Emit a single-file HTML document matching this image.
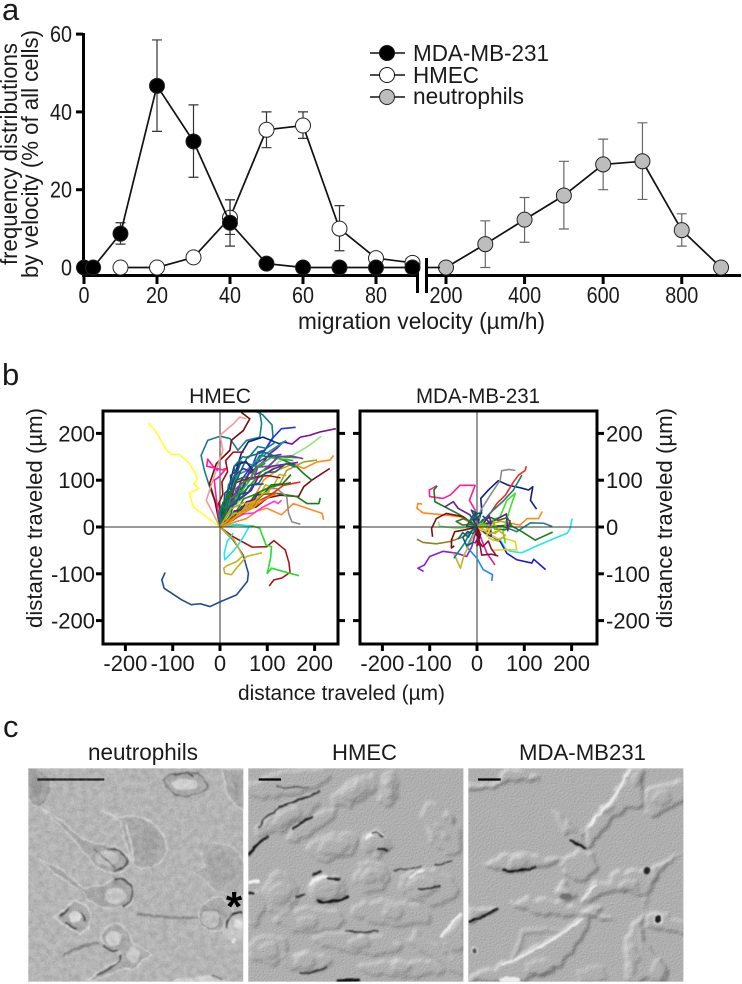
<!DOCTYPE html>
<html lang="en">
<head>
<meta charset="utf-8">
<title>Cell migration velocity figure</title>
<style>
html,body{margin:0;padding:0;background:#fff;}
svg{display:block;}
text{font-family:"Liberation Sans",sans-serif;fill:#1a1a1a;}
</style>
</head>
<body>
<svg id="fig" xmlns="http://www.w3.org/2000/svg" width="742" height="984" viewBox="0 0 742 984">
<defs>
<clipPath id="clipHmec"><rect x="103" y="411" width="235" height="233"/></clipPath>
<clipPath id="clipMda"><rect x="360" y="411" width="237" height="233"/></clipPath>
<clipPath id="clipPhoto"><rect x="10" y="10" width="645" height="640"/></clipPath>
<filter id="soft" filterUnits="userSpaceOnUse" x="0" y="0" width="670" height="660">
  <feTurbulence type="fractalNoise" baseFrequency="0.04" numOctaves="2" seed="3" result="d"/>
  <feDisplacementMap in="SourceGraphic" in2="d" scale="12" xChannelSelector="R" yChannelSelector="G" result="w"/>
  <feGaussianBlur in="w" stdDeviation="2.4"/>
</filter>
<filter id="trackBlur" x="-5%" y="-5%" width="110%" height="110%"><feGaussianBlur stdDeviation="0.35"/></filter>
<filter id="dic" filterUnits="userSpaceOnUse" x="0" y="0" width="670" height="660" color-interpolation-filters="sRGB">
  <feTurbulence type="fractalNoise" baseFrequency="0.03" numOctaves="3" seed="9" result="d"/>
  <feDisplacementMap in="SourceGraphic" in2="d" scale="30" xChannelSelector="R" yChannelSelector="G" result="w"/>
  <feGaussianBlur in="w" stdDeviation="5" result="h"/>
  <feTurbulence type="fractalNoise" baseFrequency="0.2" numOctaves="2" seed="7" result="n"/>
  <feColorMatrix in="n" type="matrix" values="0 0 0 0 0  0 0 0 0 0  0 0 0 0 0  .1 0 0 0 0" result="na"/>
  <feComposite in="h" in2="na" operator="arithmetic" k1="0" k2="1" k3="1" k4="0" result="hh"/>
  <feDiffuseLighting in="hh" surfaceScale="3.6" diffuseConstant="0.97" lighting-color="#ffffff"><feDistantLight azimuth="225" elevation="45"/></feDiffuseLighting>
</filter>
<filter id="noise" x="0" y="0" width="100%" height="100%" color-interpolation-filters="sRGB"><feTurbulence type="fractalNoise" baseFrequency="0.7" numOctaves="2" seed="4"/><feColorMatrix type="matrix" values="1.4 0 0 0 0  1.4 0 0 0 0  1.4 0 0 0 0  0 0 0 0 1"/></filter>
<filter id="mottle" x="0" y="0" width="100%" height="100%" color-interpolation-filters="sRGB"><feTurbulence type="fractalNoise" baseFrequency="0.16" numOctaves="2" seed="11"/><feColorMatrix type="matrix" values="1.4 0 0 0 0  1.4 0 0 0 0  1.4 0 0 0 0  0 0 0 0 1"/></filter>
</defs>

<text x="2" y="20" font-size="31">a</text>
<text x="2" y="385" font-size="31">b</text>
<text x="3" y="737" font-size="31">c</text>

<g id="panelA">
<text transform="translate(17,265) rotate(-90)" font-size="23" textLength="222" lengthAdjust="spacingAndGlyphs">frequency distributions</text>
<text transform="translate(38,278) rotate(-90)" font-size="23" textLength="248" lengthAdjust="spacingAndGlyphs">by velocity (% of all cells)</text>
<text x="298" y="329" font-size="23" textLength="247" lengthAdjust="spacingAndGlyphs">migration velocity (µm/h)</text>
<g>
<g><line x1="370" y1="53" x2="405" y2="53" stroke="#111" stroke-width="1.6"/><circle cx="387" cy="53" r="7.5" fill="#000" stroke="#111" stroke-width="1"/><text x="413" y="61" font-size="23" textLength="136" lengthAdjust="spacingAndGlyphs">MDA-MB-231</text></g>
<g><line x1="370" y1="75" x2="405" y2="75" stroke="#111" stroke-width="1.6"/><circle cx="387" cy="75" r="7.5" fill="#fff" stroke="#111" stroke-width="1"/><text x="413" y="83" font-size="23" textLength="66" lengthAdjust="spacingAndGlyphs">HMEC</text></g>
<g><line x1="370" y1="97" x2="405" y2="97" stroke="#111" stroke-width="1.6"/><circle cx="387" cy="97" r="7.5" fill="#bdbdbd" stroke="#222" stroke-width="1"/><text x="413" y="104" font-size="23" textLength="111" lengthAdjust="spacingAndGlyphs">neutrophils</text></g>
</g>
</g>

<g id="panelB">
<text x="220" y="403" font-size="21" text-anchor="middle">HMEC</text>
<text x="478" y="403" font-size="21" text-anchor="middle" textLength="124" lengthAdjust="spacingAndGlyphs">MDA-MB-231</text>
<text transform="translate(42,628) rotate(-90)" font-size="22" textLength="220" lengthAdjust="spacingAndGlyphs">distance traveled (µm)</text>
<text transform="translate(672,628) rotate(-90)" font-size="22" textLength="220" lengthAdjust="spacingAndGlyphs">distance traveled (µm)</text>
<text x="238" y="700" font-size="21" textLength="207" lengthAdjust="spacingAndGlyphs">distance traveled (µm)</text>
</g>

<g id="panelC">
<text x="88" y="760" font-size="23" textLength="110" lengthAdjust="spacingAndGlyphs">neutrophils</text>
<text x="332" y="760" font-size="22" textLength="65" lengthAdjust="spacingAndGlyphs">HMEC</text>
<text x="519" y="760" font-size="22" textLength="127" lengthAdjust="spacingAndGlyphs">MDA-MB231</text>

<!-- neutrophils micrograph -->
<g transform="translate(25 765) scale(.33333)" clip-path="url(#clipPhoto)">
<rect x="10" y="10" width="645" height="640" fill="#b6b6b6"/>
<g filter="url(#soft)">
<g><path d="M8,12 Q55,12 72,55 Q76,105 35,124 Q15,120 8,100Z" fill="#a0a0a0" stroke="#d6d6d6" stroke-width="5"/><path d="M8,12 Q55,12 72,55 Q76,105 35,124" fill="none" stroke="#6a6a6a" stroke-width="3"/><ellipse cx="35" cy="65" rx="18" ry="28" fill="#8f8f8f"/></g>
<g><path d="M415,40 Q460,15 520,25 Q552,50 546,72 Q510,98 450,92 Q425,75 415,40Z" fill="#a6a6a6" stroke="#666" stroke-width="4"/><ellipse cx="480" cy="58" rx="38" ry="17" fill="#d8d8d8"/><path d="M445,30 Q480,20 505,32" fill="none" stroke="#444" stroke-width="6"/></g>
<g><path d="M590,12 L660,12 L660,140 Q612,115 602,70Z" fill="#a8a8a8" stroke="#d6d6d6" stroke-width="5"/><path d="M625,50 Q645,70 635,105" fill="none" stroke="#949494" stroke-width="12"/></g>
<g><path d="M230,135 L285,158 Q300,152 340,155 Q390,170 415,210 Q435,250 418,275 Q395,312 345,314 L322,292 L300,232 L285,168Z" fill="#a8a8a8" stroke="#d4d4d4" stroke-width="5"/><path d="M305,175 Q320,230 325,290" fill="none" stroke="#e0e0e0" stroke-width="5"/><ellipse cx="365" cy="235" rx="40" ry="50" fill="#a0a0a0"/></g>
<g><path d="M45,128 L115,170 L170,222 L255,242 Q305,252 314,290 Q308,322 268,326 Q212,312 190,280 L150,228 L100,176Z" fill="#a4a4a4" stroke="#d6d6d6" stroke-width="4"/><path d="M245,255 Q298,245 305,290 Q300,315 270,318" fill="none" stroke="#333" stroke-width="6"/><ellipse cx="245" cy="280" rx="35" ry="22" fill="#c6c6c6"/><path d="M205,250 Q235,275 275,310" stroke="#666" stroke-width="5" fill="none"/></g>
<g><path d="M38,280 L110,315 L175,370 L235,360 Q275,332 315,345 Q332,385 320,420 Q285,432 240,428 Q195,418 175,385 L150,365 L90,325Z" fill="#a2a2a2" stroke="#d6d6d6" stroke-width="4"/><path d="M265,345 Q315,335 322,380 Q322,410 295,425" fill="none" stroke="#2c2c2c" stroke-width="6"/><ellipse cx="272" cy="392" rx="32" ry="24" fill="#cccccc"/></g>
<g><path d="M90,455 L150,405 Q195,420 198,450 L188,492 L165,506 L120,482Z" fill="#a8a8a8" stroke="#e0e0e0" stroke-width="5"/><path d="M105,455 L130,430 M120,472 L155,492 M170,440 L178,470" stroke="#222" stroke-width="7" fill="none"/><circle cx="150" cy="455" r="17" fill="#e4e4e4"/></g>
<g><path d="M225,520 Q235,480 275,475 Q315,490 325,540 Q355,545 380,570 L350,585 Q345,620 300,610 Q250,630 205,645 L180,650 Q230,610 290,580 Q290,558 270,558 Q240,550 225,520Z" fill="#a8a8a8" stroke="#dcdcdc" stroke-width="4"/><path d="M235,540 Q255,560 280,558 M290,572 Q280,605 215,630" fill="none" stroke="#262626" stroke-width="6"/><ellipse cx="265" cy="520" rx="24" ry="22" fill="#d2d2d2"/><ellipse cx="325" cy="570" rx="20" ry="25" fill="#d0d0d0"/><path d="M110,575 Q160,540 225,535" fill="none" stroke="#808080" stroke-width="8"/></g>
<g><path d="M505,325 L540,305 Q515,260 545,235 Q600,225 640,260 L660,300 L660,395 Q590,385 560,370 L540,340Z" fill="#adadad" stroke="#c8c8c8" stroke-width="4"/><ellipse cx="590" cy="310" rx="42" ry="48" fill="#a4a4a4"/></g>
<g><path d="M335,448 Q430,458 520,458" fill="none" stroke="#808080" stroke-width="7"/><path d="M520,445 Q540,395 590,395 L625,440 Q600,480 590,495 Q545,505 530,480Z" fill="#a6a6a6" stroke="#dcdcdc" stroke-width="4"/><ellipse cx="558" cy="462" rx="30" ry="30" fill="#c2c2c2" stroke="#606060" stroke-width="3"/></g>
<g><circle cx="632" cy="490" r="40" fill="#cbcbcb"/><path d="M602,490 Q608,442 652,440" fill="none" stroke="#0c0c0c" stroke-width="6"/><circle cx="625" cy="528" r="8" fill="#ececec"/><circle cx="640" cy="480" r="14" fill="#e8e8e8"/></g>
<g><path d="M440,650 Q470,630 505,640 Q550,625 600,645 L600,655 L440,655Z" fill="#d8d8d8"/><path d="M560,632 Q580,635 590,645" stroke="#444" stroke-width="4" fill="none"/></g>
</g>
<rect x="37" y="40" width="201" height="7" fill="#0a0a0a"/>
</g>
<rect x="28" y="768" width="215" height="214" filter="url(#noise)" opacity=".1"/>
<rect x="28" y="768" width="215" height="214" filter="url(#mottle)" opacity=".1"/>
<text x="234" y="921" font-size="42" font-weight="bold" text-anchor="middle" style="fill:#000">*</text>

<!-- HMEC micrograph -->
<g transform="translate(245 765) scale(.33333)" clip-path="url(#clipPhoto)">
<rect x="10" y="10" width="645" height="640" fill="#adadad"/>
<g filter="url(#dic)">
<rect x="-20" y="-20" width="710" height="700" fill="#000" fill-opacity=".05"/>
<g fill="#000" fill-opacity=".3">
<ellipse cx="130" cy="55" rx="130" ry="36" transform="rotate(-10 130 55)"/>
<ellipse cx="330" cy="80" rx="80" ry="32" transform="rotate(-28 330 80)"/>
<ellipse cx="430" cy="70" rx="30" ry="55" transform="rotate(12 430 70)"/>
<ellipse cx="125" cy="155" rx="105" ry="32" transform="rotate(-28 125 155)"/>
<ellipse cx="205" cy="180" rx="85" ry="24" transform="rotate(-32 205 180)"/>
<ellipse cx="265" cy="245" rx="78" ry="40" transform="rotate(-10 265 245)"/>
<ellipse cx="590" cy="195" rx="45" ry="85" transform="rotate(-30 590 195)"/>
<ellipse cx="395" cy="235" rx="40" ry="38"/>
<ellipse cx="105" cy="385" rx="52" ry="62"/>
<ellipse cx="380" cy="335" rx="52" ry="45"/>
<ellipse cx="550" cy="365" rx="90" ry="52" transform="rotate(8 550 365)"/>
<ellipse cx="245" cy="372" rx="55" ry="40"/>
<ellipse cx="195" cy="465" rx="105" ry="36"/>
<ellipse cx="440" cy="445" rx="125" ry="36" transform="rotate(5 440 445)"/>
<ellipse cx="340" cy="535" rx="135" ry="30" transform="rotate(6 340 535)"/>
<ellipse cx="470" cy="610" rx="125" ry="26"/>
<ellipse cx="180" cy="590" rx="72" ry="28"/>
<ellipse cx="70" cy="555" rx="62" ry="42"/>
<ellipse cx="30" cy="430" rx="28" ry="50"/>
<path d="M520,500 L660,610 L660,640 L480,530Z"/>
<path d="M590,520 L660,445 L660,540 L620,560Z"/>
</g>
<g fill="#000" fill-opacity=".38">
<ellipse cx="330" cy="80" rx="42" ry="20" transform="rotate(-28 330 80)"/>
<ellipse cx="430" cy="70" rx="18" ry="36" transform="rotate(12 430 70)"/>
<ellipse cx="125" cy="155" rx="45" ry="18" transform="rotate(-28 125 155)"/>
<ellipse cx="265" cy="245" rx="45" ry="24" transform="rotate(-10 265 245)"/>
<ellipse cx="396" cy="235" rx="28" ry="26"/>
<ellipse cx="108" cy="385" rx="32" ry="30"/>
<ellipse cx="380" cy="335" rx="30" ry="26"/>
<ellipse cx="535" cy="365" rx="45" ry="28"/>
<ellipse cx="245" cy="372" rx="42" ry="30"/>
<ellipse cx="190" cy="470" rx="28" ry="18"/>
<ellipse cx="445" cy="440" rx="28" ry="20"/>
<ellipse cx="345" cy="530" rx="32" ry="20"/>
<ellipse cx="470" cy="605" rx="30" ry="18"/>
<ellipse cx="180" cy="590" rx="30" ry="20"/>
<ellipse cx="75" cy="555" rx="30" ry="22"/>
</g>
<g fill="#000" fill-opacity=".3">
<ellipse cx="580" cy="185" rx="14" ry="8" transform="rotate(35 580 185)"/><ellipse cx="600" cy="210" rx="14" ry="8" transform="rotate(35 600 210)"/><ellipse cx="565" cy="210" rx="14" ry="8" transform="rotate(35 565 210)"/><ellipse cx="610" cy="160" rx="14" ry="8" transform="rotate(35 610 160)"/>
<ellipse cx="330" cy="70" rx="14" ry="6" transform="rotate(-28 330 70)"/><ellipse cx="430" cy="55" rx="10" ry="7"/><ellipse cx="430" cy="85" rx="10" ry="7"/>
<ellipse cx="245" cy="372" rx="14" ry="9"/><ellipse cx="105" cy="390" rx="14" ry="9"/><ellipse cx="380" cy="325" rx="12" ry="8"/>
</g>
</g>
<g filter="url(#soft)" fill="none">
<path d="M10,272 Q30,240 68,214" stroke="#0c0c0c" stroke-width="8"/>
<path d="M40,190 Q75,135 125,120" stroke="#3a3a3a" stroke-width="5"/>
<path d="M100,125 Q170,105 225,78" stroke="#2c2c2c" stroke-width="6"/>
<path d="M145,192 Q170,170 205,155" stroke="#222" stroke-width="7"/>
<path d="M90,65 Q140,72 190,65" stroke="#555" stroke-width="4"/>
<path d="M360,222 Q385,190 412,210" stroke="#f2f2f2" stroke-width="9"/>
<path d="M378,205 Q398,198 412,214" stroke="#1a1a1a" stroke-width="6"/>
<path d="M398,252 L428,258" stroke="#222" stroke-width="8"/>
<path d="M195,360 Q205,340 245,335" stroke="#f0f0f0" stroke-width="10"/>
<path d="M205,330 L230,318 M240,340 L285,345" stroke="#1c1c1c" stroke-width="7"/>
<path d="M215,405 Q260,420 310,395" stroke="#0e0e0e" stroke-width="7"/>
<path d="M495,340 Q510,320 535,318" stroke="#ececec" stroke-width="7"/>
<path d="M520,372 Q550,372 585,362" stroke="#2a2a2a" stroke-width="6"/>
<path d="M445,316 L530,306 M570,300 L620,290" stroke="#333" stroke-width="4"/>
<path d="M10,350 L45,348" stroke="#f4f4f4" stroke-width="9"/>
<path d="M10,385 L30,385" stroke="#141414" stroke-width="7"/>
<path d="M150,395 L178,390" stroke="#2a2a2a" stroke-width="5"/>
<path d="M300,497 Q350,505 400,498" stroke="#3c3c3c" stroke-width="5"/>
<path d="M650,445 Q610,480 590,515" stroke="#efefef" stroke-width="9"/>
<path d="M275,648 L345,645" stroke="#0c0c0c" stroke-width="9"/>
<path d="M165,625 Q210,625 245,605" stroke="#333" stroke-width="5"/>
</g>
<rect x="41" y="40" width="67" height="7" fill="#0a0a0a"/>
</g>

<!-- MDA micrograph -->
<g transform="translate(465 765) scale(.33333)" clip-path="url(#clipPhoto)">
<rect x="10" y="10" width="645" height="640" fill="#b0b0b0"/>
<g filter="url(#dic)">
<rect x="-20" y="-20" width="710" height="700" fill="#000" fill-opacity=".05"/>
<g fill="#000" fill-opacity=".42">
<path d="M10,60 L90,55 L125,12 L150,14 Q200,25 225,50 Q140,30 100,60 L10,82Z"/>
<path d="M365,185 L440,105 L495,12 L535,12 Q530,60 535,125 L490,128 Q430,165 395,225 L365,250Z"/>
<path d="M540,80 Q580,50 660,52 L660,100 Q600,145 560,155 L540,125Z"/>
<path d="M265,140 Q320,170 350,205 L368,250 Q310,225 285,185Z"/>
<path d="M55,300 Q120,270 160,262 Q220,275 300,290 L230,305 Q180,325 140,320 Q90,320 55,300Z"/>
<ellipse cx="345" cy="305" rx="50" ry="45"/>
<path d="M435,330 Q490,315 560,310 L660,260 L580,318 L545,385 Q490,395 450,375 L340,418 L380,365 Q410,350 435,355Z"/>
<path d="M300,350 Q335,375 332,395 Q310,415 280,405 Q265,385 300,350Z"/>
<path d="M135,420 Q190,395 250,400 Q330,430 440,455 L445,465 L330,450 Q230,450 175,435Z"/>
<path d="M12,432 L100,428 Q60,460 12,472Z"/>
<path d="M105,600 Q200,565 270,515 Q330,480 380,420 Q400,420 410,430 L370,470 Q350,530 300,590 Q240,640 110,650 L10,650 L10,630Z"/>
<path d="M130,590 Q160,530 175,490 L315,495 L185,505 Q165,550 140,590Z" fill-opacity=".25"/>
<path d="M550,450 Q600,445 660,470 L660,510 Q600,495 548,480Z"/>
<path d="M480,520 L535,445 L530,650 L480,650Z"/>
<path d="M530,500 L560,560 L610,610 L605,650 L530,650Z"/>
<path d="M340,630 Q370,600 420,605 L420,650 L340,650Z" fill-opacity=".2"/>
<path d="M495,385 L545,430 L580,320 L560,330 L535,405Z" fill-opacity=".22"/>
</g>
<g fill="#000" fill-opacity=".45">
<ellipse cx="318" cy="190" rx="24" ry="14"/>
<ellipse cx="155" cy="295" rx="26" ry="16"/><circle cx="165" cy="285" r="7"/><circle cx="145" cy="285" r="7"/>
<ellipse cx="490" cy="360" rx="32" ry="20"/><circle cx="470" cy="370" r="6"/><circle cx="490" cy="345" r="6"/><circle cx="510" cy="350" r="6"/>
<ellipse cx="302" cy="385" rx="18" ry="14"/>
<ellipse cx="230" cy="610" rx="45" ry="22"/>
<ellipse cx="580" cy="610" rx="18" ry="30"/><ellipse cx="503" cy="585" rx="14" ry="45"/>
<ellipse cx="430" cy="130" rx="20" ry="12" transform="rotate(-45 430 130)"/><ellipse cx="515" cy="40" rx="12" ry="18"/><ellipse cx="590" cy="100" rx="30" ry="18" transform="rotate(-25 590 100)"/>
</g>
</g>
<g filter="url(#soft)">
<path d="M12,470 Q60,455 100,430" fill="none" stroke="#0c0c0c" stroke-width="6"/>
<path d="M315,225 Q340,240 366,250" fill="none" stroke="#0e0e0e" stroke-width="7"/>
<path d="M110,315 Q160,325 215,305" fill="none" stroke="#111" stroke-width="7"/>
<path d="M370,185 L445,100 L495,15" fill="none" stroke="#f0f0f0" stroke-width="6"/>
<path d="M110,598 Q215,565 355,460" fill="none" stroke="#f0f0f0" stroke-width="6"/>
<path d="M350,410 Q375,370 395,362" fill="none" stroke="#ececec" stroke-width="5"/>
<circle cx="545" cy="318" r="10" fill="#222"/>
<circle cx="580" cy="463" r="15" fill="#1c1c1c" stroke="#eee" stroke-width="4"/>
<circle cx="29" cy="556" r="9" fill="#505050" stroke="#e4e4e4" stroke-width="3"/>
<path d="M105,640 Q135,625 165,640 L165,655 L105,655Z" fill="#ececec"/>
<ellipse cx="302" cy="395" rx="18" ry="9" fill="#707070"/>
</g>
<rect x="39" y="40" width="68" height="7" fill="#0a0a0a"/>
</g>
</g>
</svg>

<script>
// ---- Panel a data ----
const velocityTicksLow = [0, 20, 40, 60, 80];
const velocityTicksHigh = [200, 400, 600, 800];
const frequencyTicks = [0, 20, 40, 60];

const mdaVelocity = [0, 2.5, 10, 20, 30, 40, 50, 60, 70, 80, 90];
const mdaFrequency = [0, 0, 8.7, 46.7, 32.4, 11.5, 1, 0, 0, 0, 0];
const mdaErrorHigh = [null, null, 11.5, 58.5, 41.8, 17.4, null, null, null, null, null];
const mdaErrorLow = [null, null, 6, 35, 23.2, 5.5, null, null, null, null, null];

const hmecVelocity = [10, 20, 30, 40, 50, 60, 70, 80, 90];
const hmecFrequency = [0, 0, 2.6, 12.8, 35.4, 36.5, 10, 2.4, 1.2];
const hmecErrorHigh = [null, null, null, 17.4, 40, 40, 15.9, null, null];
const hmecErrorLow = [null, null, null, 8.5, 30.8, 33.2, 4.3, null, null];

const neutroVelocity = [200, 300, 400, 500, 600, 700, 800, 900];
const neutroFrequency = [0, 6, 12.3, 18.5, 26.5, 27.3, 9.6, 0];
const neutroErrorHigh = [null, 12, 18, 27.3, 33, 37.2, 13.8, null];
const neutroErrorLow = [null, 0, 6.5, 9.9, 20, 17.5, 5.5, null];

// ---- Panel b data (µm) ----
const trajectoryTicks = [-200, -100, 0, 100, 200];
const hmecTrackColors = ['#ffff33','#1f4e8c','#a01818','#22e02a','#22e6f0','#c4b420','#1d7d83','#128080','#6e1010','#f09a9a','#ff1a9a','#7a0f96','#8fe87a','#2233ee','#10207e','#ff8a1e','#7a1010','#1e7a1e','#ff8a2a','#8c8c8c','#0f7a24','#a8a020','#ff2020','#ff33dd','#7a0f96','#3a3ab0','#1a9a9a','#6a1aa8','#2aa02a','#c8b020','#8a1a1a','#0f6a6a','#1a8a1a','#1a1a90','#32b432','#0f7a7a','#7a3ab0','#107060','#1e6e1e','#a01010','#3a8a3a','#0f5a78','#2244aa','#136b3a','#5a1a90','#0f7a24','#157a7a','#0f7a24','#e07a10','#d8a010','#e6a000','#c01010','#e6a000'];
const hmecTracks = [
[[0,0],[-33,25],[-56,42],[-65,72],[-45,82],[-56,93],[-49,100],[-50,111],[-65,136],[-86,155],[-103,155],[-113,164],[-135,203],[-151,222]],
[[0,0],[28,-28],[49,-60],[60,-99],[58,-116],[35,-145],[0,-160],[-21,-170],[-42,-164],[-61,-166],[-82,-155],[-118,-131],[-123,-113],[-116,-97]],
[[0,0],[28,-21],[68,-43],[99,-42],[114,-29],[138,-49],[146,-77],[148,-97],[131,-109],[114,-113],[104,-126]],
[[0,0],[35,4],[70,2],[84,-3],[97,-38],[109,-42],[107,-66],[100,-99],[109,-88],[148,-99],[167,-104]],
[[0,0],[35,6],[62,2],[52,-17],[36,-42],[24,-56],[10,-70],[9,-56],[15,-31],[28,-13]],
[[0,0],[30,-28],[48,-62],[35,-74],[14,-83],[8,-88],[10,-99],[24,-102],[35,-88],[56,-63],[89,-55]],
[[0,0],[-4,36],[-22,86],[-33,121],[-40,153],[-26,185],[0,194],[21,189],[38,164],[56,185],[84,192],[88,221],[84,245],[99,252]],
[[8,30],[30,100],[45,140],[75,130],[95,165],[112,192],[110,218],[90,240],[70,250],[30,248]],
[[0,0],[-11,57],[-22,93],[-8,135],[21,164],[24,185],[49,206],[63,231],[45,245]],
[[0,0],[-29,57],[-15,100],[6,164],[0,196],[28,220],[42,235],[56,231]],
[[0,0],[-8,62],[-12,100],[-2,107],[13,125],[5,122],[-28,130],[-26,145],[-15,130],[-4,120]],
[[0,0],[8,24],[21,43],[30,70],[49,86],[60,112],[77,128],[92,140],[106,157],[120,168],[134,182],[152,177],[170,192],[190,196],[211,203],[245,210]],
[[0,0],[18,30],[35,48],[63,79],[78,104],[106,121],[125,140],[148,150],[184,171],[214,194]],
[[0,0],[14,32],[35,72],[45,100],[70,135],[80,160],[95,164],[113,192],[130,210],[160,213]],
[[0,0],[6,36],[20,66],[28,100],[45,157],[60,182],[91,192],[125,178],[141,182]],
[[0,0],[35,29],[55,44],[77,72],[92,100],[120,121],[155,135],[177,125],[205,139],[233,143],[240,153]],
[[0,0],[28,15],[50,36],[77,43],[100,62],[127,68],[166,65],[177,86],[194,100],[232,125]],
[[0,0],[28,15],[46,38],[70,50],[92,70],[120,72],[162,65],[184,50],[209,50],[212,62]],
[[0,0],[30,10],[56,18],[78,34],[99,40],[130,26],[155,50],[184,40],[216,29],[219,15]],
[[0,0],[30,20],[63,43],[78,70],[99,82],[120,82],[141,65],[145,29],[152,11],[170,6]],
[[0,0],[28,60],[44,76],[56,107],[70,130],[84,153],[127,146],[159,132],[177,114],[194,100]],
[[0,0],[35,29],[64,48],[91,72],[127,93],[141,121],[177,139],[205,143]],
[[0,0],[42,30],[60,36],[84,57],[106,68],[134,89],[170,96]],
[[0,0],[50,28],[72,30],[90,42],[115,55],[123,50],[130,57]],
[[0,0],[14,25],[22,54],[40,58],[66,78],[80,105],[115,125],[130,130]],
[[0,0],[25,45],[40,62],[52,90],[66,130],[100,150],[130,155]],
[[0,0],[12,55],[38,112],[55,120],[80,145],[125,175],[140,185]],
[[0,0],[15,50],[30,110],[50,125],[75,112],[110,130],[165,138]],
[[0,0],[30,48],[44,70],[60,85],[88,118],[125,150],[165,148]],
[[0,0],[48,36],[80,62],[96,90],[112,85],[125,112],[140,110]],
[[0,0],[22,55],[34,95],[62,105],[100,110],[128,105]],
[[0,0],[20,62],[44,120],[58,150],[92,160],[120,150]],
[[0,0],[36,36],[50,60],[70,68],[104,85],[150,95]],
[[0,0],[10,50],[22,98],[30,130],[55,140],[70,120]],
[[0,0],[28,52],[60,96],[80,130],[108,148],[155,142]],
[[0,0],[5,20],[3,45],[14,62],[18,90],[32,112],[30,130],[48,150],[60,148],[80,172],[98,168],[118,182]],
[[0,0],[8,14],[14,40],[30,58],[34,82],[52,98],[72,104],[80,128],[104,130],[122,150],[150,152],[176,146]],
[[0,0],[12,10],[24,30],[28,52],[48,66],[60,88],[82,94],[96,116],[118,118],[140,136],[160,128]],
[[0,0],[14,12],[30,22],[46,44],[58,46],[74,68],[92,70],[108,90],[132,92],[150,112]],
[[0,0],[3,24],[-3,50],[6,70],[4,96],[16,118],[12,142],[28,160],[50,160]],
[[0,0],[6,18],[16,34],[22,60],[38,72],[46,94],[62,100],[74,124],[96,136]],
[[0,0],[2,22],[8,44],[10,72],[24,86],[22,110],[38,122],[42,142]],
[[0,0],[4,14],[14,26],[20,44],[34,50],[42,70],[60,74],[70,90],[92,92]],
[[0,0],[-2,16],[2,36],[12,50],[14,70],[28,82],[34,100],[54,108]],
[[0,0],[8,10],[22,16],[30,34],[44,36],[56,54],[72,58],[82,74]],
[[0,0],[3,12],[9,30],[6,52],[18,64],[24,80]],
[[0,0],[2,14],[-2,30],[4,46],[12,40],[16,58]],
[[0,0],[6,8],[12,20],[10,36],[20,42]],
[[0,0],[30,20],[68,40],[96,60],[120,72]],
[[0,0],[22,38],[50,52],[70,40],[85,60]],
[[0,0],[14,12],[30,30],[42,28],[58,50],[74,56],[92,72],[106,76]],
[[0,0],[12,6],[26,14],[40,26],[50,30]],
[[0,0],[18,8],[34,22],[50,32],[66,42],[76,58]]
];
const mdaTrackColors = ['#22e6f0','#10207e','#ff2020','#8c8c8c','#1d7d83','#ff1a9a','#1e7a1e','#ff8a1e','#8a1010','#8fe87a','#6a1a90','#8a8420','#7a1010','#8a1ae0','#2288ee','#c4b420','#1a1ac0','#1a8088','#1e7a1e','#ff8a1e','#e8d020','#44e024','#7a0f96','#e01a9a','#8a1040','#128090','#e6a000','#0f5a5a','#8a1010','#3030a0','#1e7a1e','#0f5a78','#8a1040','#2a7a2a','#c8b020','#14506e','#a01050','#0f6a6a','#6a1a90','#e6a000','#0f7a50','#44e024','#e8d020','#6e1010','#124a7a'];
const mdaTracks = [
[[0,0],[49,-28],[60,-46],[70,-52],[95,-55],[123,-42],[155,-28],[191,-13],[197,-3],[201,18]],
[[0,0],[10,36],[8,61],[24,79],[45,99],[67,89],[91,84],[109,79],[118,86],[113,57],[126,38]],
[[0,0],[28,29],[42,50],[60,68],[77,96],[88,111],[102,121],[104,130]],
[[0,0],[8,36],[28,68],[49,100],[52,120],[67,123],[81,121]],
[[0,0],[30,32],[55,55],[77,79],[95,111]],
[[0,0],[-4,36],[-16,57],[-4,89],[-36,89],[-57,68],[-72,61],[-100,65],[-101,79],[-85,88]],
[[0,0],[-36,26],[-68,43],[-89,54],[-91,79],[-84,88]],
[[0,0],[-36,22],[-72,26],[-114,30],[-127,40],[-125,50],[-116,49]],
[[0,0],[-29,22],[-65,29],[-86,18],[-96,-3],[-94,-21]],
[[0,0],[-43,-3],[-79,2],[-82,11]],
[[0,0],[-15,26],[-40,40],[-50,54],[-68,43]],
[[0,0],[-29,-21],[-57,-31],[-86,-36],[-114,-33],[-127,-26]],
[[0,0],[-25,-6],[-47,-10],[-54,-28],[-54,-45],[-48,-40]],
[[0,0],[-11,-42],[-22,-63],[-43,-56],[-72,-52],[-100,-63],[-111,-81],[-125,-88],[-113,-95]],
[[0,0],[-22,-42],[0,-67],[13,-91],[33,-102],[31,-115]],
[[0,0],[-15,-35],[-28,-62],[-35,-88],[-43,-70],[-50,-55]],
[[0,0],[49,-31],[63,-56],[84,-70],[116,-77],[120,-69],[145,-91]],
[[0,0],[56,1],[84,-10],[113,9],[141,8],[159,1]],
[[0,0],[70,4],[95,-10],[123,-28],[138,-21],[160,-11]],
[[0,0],[50,12],[91,4],[106,18],[130,18],[138,33]],
[[0,0],[42,-25],[56,-24],[81,-31],[84,-49],[60,-48],[35,-50]],
[[0,0],[49,22],[63,57],[81,72],[70,40],[55,-10],[60,-35]],
[[0,0],[30,10],[62,28],[65,-8],[70,15]],
[[0,0],[10,-28],[21,-56],[38,-81]],
[[0,0],[4,-25],[10,-60],[30,-58],[45,-62]],
[[0,0],[-15,-12],[-26,-34],[-49,-67]],
[[0,0],[20,-8],[38,-14],[50,-4]],
[[0,0],[-22,2],[-6,28],[10,30],[-4,14]],
[[0,0],[4,-18],[0,-40],[6,-34]],
[[0,0],[18,-14],[30,-20],[28,8],[12,24]],
[[0,0],[12,16],[30,20],[44,14],[64,20],[72,6],[60,-6],[36,-4]],
[[0,0],[-8,-14],[-20,-10],[-30,-22],[-22,-40],[-6,-32]],
[[0,0],[6,-12],[2,-28],[12,-42],[24,-30],[30,-46],[40,-60]],
[[0,0],[-14,6],[-30,4],[-44,12],[-28,18],[-12,12]],
[[0,0],[16,-6],[28,-14],[46,-8],[60,-18],[44,-30],[24,-24]],
[[0,0],[-6,12],[-2,30],[-12,36],[-4,20]],
[[0,0],[-3,-10],[3,-22],[-4,-34],[2,-26],[6,-40]],
[[0,0],[-10,-6],[-18,-22],[-30,-12],[-40,-26]],
[[0,0],[10,2],[18,14],[26,24],[30,8],[22,-10]],
[[0,0],[14,4],[24,-6],[36,6],[48,-8]],
[[0,0],[-6,4],[-14,14],[-4,22],[6,14]],
[[0,0],[8,8],[26,2],[40,-4],[34,14]],
[[0,0],[12,-8],[28,-4],[20,-18],[36,-30]],
[[0,0],[3,-8],[-2,-16],[5,-24],[8,-14]],
[[0,0],[-4,8],[-8,16],[2,18],[4,8]]
];

// ---- Axis functions ----
const A_BASE = 267.5, A_UNIT = 3.89;
function yFreq(v){ return A_BASE - v * A_UNIT; }
function xVelLow(v){ return 84 + v * 3.65; }
function xVelHigh(v){ return 446 + (v - 200) * 0.3929; }
function xHmec(v){ return 220 + v * 0.473; }
function xMda(v){ return 477 + v * 0.473; }
function yTrack(v){ return 527 - v * 0.468; }

const NS = 'http://www.w3.org/2000/svg';
function mk(tag, attrs, parent, txt){
  const el = document.createElementNS(NS, tag);
  for (const k in attrs) el.setAttribute(k, attrs[k]);
  if (txt !== undefined) el.textContent = txt;
  parent.appendChild(el);
  return el;
}
const panelA = document.getElementById('panelA');
const panelB = document.getElementById('panelB');

// ---- Panel a axes ----
const axesA = mk('g', {stroke:'#000', fill:'none'}, panelA);


const yAxisA = mk('line', {x1:83.5, y1:33, x2:83.5, y2:277, 'stroke-width':3}, axesA);


const xAxisLow = mk('line', {x1:82, y1:275.5, x2:416, y2:275.5, 'stroke-width':3}, axesA);


const xAxisHigh = mk('line', {x1:427, y1:275.5, x2:741, y2:275.5, 'stroke-width':3}, axesA);


const breakLeft = mk('line', {x1:417.5, y1:258, x2:417.5, y2:293, 'stroke-width':3}, axesA);


const breakRight = mk('line', {x1:426.5, y1:258, x2:426.5, y2:293, 'stroke-width':3}, axesA);



function condensed(x, y, label, anchor, parent){
  const t = mk('text', {transform:'translate(' + x + ',' + y + ') scale(.86,1)', 'font-size':23, 'text-anchor':anchor}, parent, label);
  return t;
}
frequencyTicks.forEach(v => {
  const tick = mk('line', {x1:76, y1:yFreq(v), x2:83, y2:yFreq(v), 'stroke-width':3}, axesA);
  
  
  const lab = condensed(72, yFreq(v) + 8, String(v), 'end', panelA);
  
  
});
velocityTicksLow.forEach(v => {
  const tick = mk('line', {x1:xVelLow(v), y1:276, x2:xVelLow(v), y2:284, 'stroke-width':3}, axesA);
  
  
  const lab = condensed(xVelLow(v), 303, String(v), 'middle', panelA);
  
  
});
velocityTicksHigh.forEach(v => {
  const tick = mk('line', {x1:xVelHigh(v), y1:276, x2:xVelHigh(v), y2:284, 'stroke-width':3}, axesA);
  
  
  const lab = condensed(xVelHigh(v), 303, String(v), 'middle', panelA);
  
  
});

function drawSeries(name, xs, ys, hi, lo, xFn, fill, errColor){
  const g = mk('g', {}, panelA);
  
  
  xs.forEach((x, i) => {
    if (hi[i] === null) return;
    const px = xFn(x);
    const err = mk('path', {d:'M' + (px-5) + ' ' + yFreq(hi[i]) + 'H' + (px+5) + 'M' + px + ' ' + yFreq(hi[i]) + 'V' + yFreq(lo[i]) + 'M' + (px-5) + ' ' + yFreq(lo[i]) + 'H' + (px+5), stroke:errColor, 'stroke-width':1.2, fill:'none'}, g);
    
    
  });
  const pts = xs.map((x, i) => xFn(x) + ',' + yFreq(ys[i])).join(' ');
  const line = mk('polyline', {points:pts, fill:'none', stroke:'#111', 'stroke-width':1.7}, g);
  
  
  xs.forEach((x, i) => {
    const c = mk('circle', {cx:xFn(x), cy:yFreq(ys[i]), r:7.5, fill:fill, stroke:'#222', 'stroke-width':1}, g);
    
    
  });
}
drawSeries('hmec', hmecVelocity, hmecFrequency, hmecErrorHigh, hmecErrorLow, xVelLow, '#fff', '#333');
drawSeries('mda-mb-231', mdaVelocity, mdaFrequency, mdaErrorHigh, mdaErrorLow, xVelLow, '#000', '#333');
drawSeries('neutrophils', neutroVelocity, neutroFrequency, neutroErrorHigh, neutroErrorLow, xVelHigh, '#bdbdbd', '#666');
const stub = mk('line', {x1:427, y1:yFreq(0), x2:440, y2:yFreq(0), stroke:'#111', 'stroke-width':1.7}, panelA);



// ---- Panel b plots ----
function drawTrackPlot(name, xFn, left, right, clipId, tracks, colors, leftLabels, rightLabels){
  const plot = mk('g', {}, panelB);
  
  
  const cross = mk('g', {stroke:'#555', 'stroke-width':1.2}, plot);
  
  
  const vLine = mk('line', {x1:xFn(0), y1:411, x2:xFn(0), y2:644}, cross);
  
  
  const tg = mk('g', {'clip-path':'url(#' + clipId + ')', fill:'none', 'stroke-width':1.6, 'stroke-linejoin':'round', filter:'url(#trackBlur)'}, plot);
  
  
  tracks.forEach((tr, i) => {
    const pts = tr.map(p => xFn(p[0]) + ',' + yTrack(p[1])).join(' ');
    const pl = mk('polyline', {points:pts, stroke:colors[i % colors.length]}, tg);
    
    
  });
  const hLine = mk('line', {x1:left, y1:yTrack(0), x2:right, y2:yTrack(0), stroke:'#333', 'stroke-width':1.1}, plot);
  
  
  const box = mk('rect', {x:left, y:411, width:right-left, height:233, fill:'none', stroke:'#000', 'stroke-width':3}, plot);
  
  
  trajectoryTicks.forEach(v => {
    const bt = mk('line', {x1:xFn(v), y1:644, x2:xFn(v), y2:651, stroke:'#000', 'stroke-width':3}, plot);
    
    
    const bl = mk('text', {x:xFn(v), y:671, 'font-size':22, 'text-anchor':'middle'}, plot, String(v));
    
    
    const lt = mk('line', {x1:left-7, y1:yTrack(v), x2:left, y2:yTrack(v), stroke:'#000', 'stroke-width':3}, plot);
    
    
    const rt = mk('line', {x1:right, y1:yTrack(v), x2:right+7, y2:yTrack(v), stroke:'#000', 'stroke-width':3}, plot);
    
    
    if (leftLabels) {
      const ll = mk('text', {x:left-8, y:yTrack(v)+8, 'font-size':22, 'text-anchor':'end'}, plot, String(v));
      
      
    }
    if (rightLabels) {
      const rl = mk('text', {x:right+9, y:yTrack(v)+8, 'font-size':22}, plot, String(v));
      
      
    }
  });
}
drawTrackPlot('hmec', xHmec, 103, 338, 'clipHmec', hmecTracks, hmecTrackColors, true, false);
drawTrackPlot('mda', xMda, 360, 597, 'clipMda', mdaTracks, mdaTrackColors, false, true);
</script>
</body>
</html>
